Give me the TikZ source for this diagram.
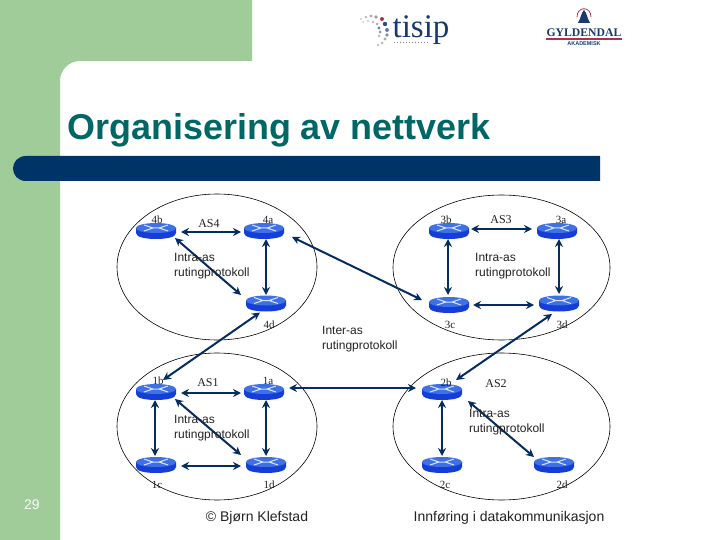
\documentclass[tikz,border=0pt]{standalone}
\usepackage{fontspec}
\setmainfont{Liberation Sans}
\newfontfamily\SerifFnt{Liberation Serif}
\usetikzlibrary{arrows.meta}
\definecolor{SideClr}{RGB}{160,204,154}
\definecolor{BarClr}{RGB}{0,51,102}
\definecolor{TitleClr}{RGB}{0,102,102}
\definecolor{LinkClr}{RGB}{5,45,95}
\definecolor{TextClr}{RGB}{35,35,35}
\definecolor{RtrTop}{RGB}{62,112,230}
\definecolor{RtrLow}{RGB}{20,62,215}
\definecolor{LogoClr}{RGB}{24,58,112}
\definecolor{LogoRed}{RGB}{170,50,80}

\tikzset{
  router/.style={minimum width=40pt,minimum height=16pt,inner sep=0pt,outer sep=0pt,
    path picture={
      \begin{scope}[shift={(path picture bounding box.center)}]
      \fill[RtrLow] (-20,-3) -- (-20,2) .. controls (-20,6) and (-11,8) .. (0,8) .. controls (11,8) and (20,6) .. (20,2) -- (20,-3) -- cycle;
      \fill[RtrTop] (0,-3) ellipse[x radius=20,y radius=5];
      \draw[white!80!RtrTop,line width=1pt] (-12,-6) -- (-3,-3) -- (-12,0) (12,-6) -- (3,-3) -- (12,0) (-6,-3) -- (6,-3);
      \end{scope}}},
  rtrlabel/.style={font=\SerifFnt\fontsize{11}{13}\selectfont,text=TextClr,inner sep=0pt},
  aslabel/.style={font=\SerifFnt\fontsize{12}{14}\selectfont,text=TextClr,inner sep=0pt},
  infotext/.style={font=\fontsize{12}{14.5}\selectfont,text=TextClr,align=left,anchor=north west,inner sep=0pt},
  foottext/.style={font=\fontsize{14}{16}\selectfont,text=TextClr,inner sep=0pt},
  asring/.style={draw=black,line width=0.6pt},
  link/.style={{Stealth[length=8pt,width=8pt]}-{Stealth[length=8pt,width=8pt]},draw=LinkClr,line width=2pt}
}

\begin{document}
\begin{tikzpicture}[x=1pt,y=-1pt]
\useasboundingbox (0,0) rectangle (720,540);

\fill[white] (0,0) rectangle (720,540);
\fill[SideClr] (0,0) -- (252,0) -- (252,61) -- (80,61) .. controls (69,61) and (60,70) .. (60,81) -- (60,540) -- (0,540) -- cycle;
\fill[BarClr] (600,156) -- (600,181) -- (26,181) .. controls (18,181) and (13,175) .. (13,168.5) .. controls (13,162) and (18,156) .. (26,156) -- cycle;

\node[font=\bfseries\fontsize{35.9}{40}\selectfont,text=TitleClr,inner sep=0pt] (title) at (279,130) {Organisering av nettverk};
\node[font=\fontsize{14}{16}\selectfont,text=white!90!SideClr,inner sep=0pt] (page) at (32,505) {29};

% logos
\foreach \px/\py/\sz/\clr in {361/19/1.1/gray!40,366/17/1.4/gray!55,371/16/1.6/gray!65,376/17/1.8/gray!75,382/19/2/LogoRed,
  385/24/2.2/LogoClr!90,387/30/2/LogoClr!65,387/35/1.9/LogoClr!55,385/39/1.7/gray!65,382/43/1.5/gray!55,378/45/1.3/gray!45,
  363/22/1/gray!40,368/21/1.1/gray!45,373/22/1.3/gray!55,377/24/1.5/gray!65,379/28/1.6/LogoClr!65,380/32/1.5/LogoClr!55,379/36/1.4/gray!55}
  \fill[\clr] (\px,\py) circle[radius=\sz];
\node[font=\SerifFnt\fontsize{33}{36}\selectfont,text=LogoClr,inner sep=0pt] (tisip) at (421,30) {tisip};
\draw[gray,line width=1pt,dotted] (394,43) -- (429,43);

\draw[LogoRed,line width=0.8pt] (577,17) .. controls (577,6) and (591,6) .. (591,17);
\fill[LogoClr] (590,23) -- (578,23) .. controls (581,18) and (581,13) .. (584,10) .. controls (587,13) and (587,18) .. (590,23) -- cycle;
\node[font=\SerifFnt\bfseries\fontsize{11.7}{13}\selectfont,text=LogoClr,inner sep=0pt] (gyldendal) at (584,33) {GYLDENDAL};
\draw[LogoRed,line width=1.6pt] (546,39) -- (622,39);
\node[font=\bfseries\fontsize{5.5}{6}\selectfont,text=LogoClr,inner sep=0pt] (akademisk) at (584,44) {AKADEMISK};

% autonome systemer
\draw[asring] (217,267) ellipse[x radius=100,y radius=73];
\draw[asring] (501.5,267.5) ellipse[x radius=108.5,y radius=72.5];
\draw[asring] (217,426.5) ellipse[x radius=100,y radius=73.5];
\draw[asring] (501.5,426.5) ellipse[x radius=108.5,y radius=73.5];

\node[router] (r4b) at (156,231) {};
\node[router] (r4a) at (264,231) {};
\node[router] (r4d) at (266,303.5) {};

\node[router] (r3b) at (449,231) {};
\node[router] (r3a) at (557,231) {};
\node[router] (r3c) at (449,305) {};
\node[router] (r3d) at (559,303.5) {};

\node[router] (r1b) at (156,392) {};
\node[router] (r1a) at (264,392) {};
\node[router] (r1c) at (156,465) {};
\node[router] (r1d) at (266,465) {};

\node[router] (r2b) at (442,392) {};
\node[router] (r2c) at (442,465) {};
\node[router] (r2d) at (554,465) {};

\draw[link] ([shift={(5,1)}]r4b.east) -- ([shift={(-3,1)}]r4a.west);
\draw[link] ([shift={(2,0)}]r4a.south) -- ([shift={(0,-0.5)}]r4d.north);
\draw[link] ([shift={(-1,-1)}]r4b.south east) -- ([shift={(-5,-0.5)}]r4d.north west);

\draw[link] ([shift={(2,-2)}]r3b.east) -- ([shift={(-5,-2)}]r3a.west);
\draw[link] ([shift={(-1,0)}]r3b.south) -- ([shift={(-1,-2)}]r3c.north);
\draw[link] ([shift={(2,0)}]r3a.south) -- ([shift={(0,-1.5)}]r3d.north);
\draw[link] ([shift={(4,0)}]r3c.east) -- ([shift={(-5,1.5)}]r3d.west);

\draw[link] ([shift={(5,1)}]r1b.east) -- ([shift={(-3,1)}]r1a.west);
\draw[link] ([shift={(-1,0)}]r1b.south) -- ([shift={(-1,-1)}]r1c.north);
\draw[link] ([shift={(2,0)}]r1a.south) -- ([shift={(0,-1)}]r1d.north);
\draw[link] ([shift={(5,1)}]r1c.east) -- ([shift={(-5,1)}]r1d.west);
\draw[link] ([shift={(-1,-1)}]r1b.south east) -- ([shift={(-5,-2)}]r1d.north west);

\draw[link] (r2b.south) -- ([shift={(0,-1)}]r2c.north);
\draw[link] ([shift={(6,1)}]r2b.south east) -- (r2d.north west);

% mellom AS-ene
\draw[link] ([shift={(8,6)}]r4a.east) -- ([shift={(-7,-5)}]r3c.west);
\draw[link] ([shift={(-6,1)}]r4d.south) -- ([shift={(7,-4)}]r1b.north);
\draw[link] ([shift={(-7,2.5)}]r3d.south) -- ([shift={(14,-4)}]r2b.north);
\draw[link] ([shift={(5,-4)}]r1a.east) -- ([shift={(-6,-4)}]r2b.west);

\node[rtrlabel] (l4b) at (157,220) {4b};
\node[rtrlabel] (l4a) at (268,220) {4a};
\node[rtrlabel] (l4d) at (269,325) {4d};
\node[rtrlabel] (l3b) at (446,220) {3b};
\node[rtrlabel] (l3a) at (561,220) {3a};
\node[rtrlabel] (l3c) at (450,325) {3c};
\node[rtrlabel] (l3d) at (562,325) {3d};
\node[rtrlabel] (l1b) at (158,381) {1b};
\node[rtrlabel] (l1a) at (268,381) {1a};
\node[rtrlabel] (l1c) at (157,485) {1c};
\node[rtrlabel] (l1d) at (269,485) {1d};
\node[rtrlabel] (l2b) at (446,383) {2b};
\node[rtrlabel] (l2c) at (445,485) {2c};
\node[rtrlabel] (l2d) at (562,485) {2d};

\node[aslabel] (as4) at (209,224) {AS4};
\node[aslabel] (as3) at (501,220) {AS3};
\node[aslabel] (as1) at (208,383) {AS1};
\node[aslabel] (as2) at (496,384) {AS2};

\node[infotext] (intra4) at (174,253.5) {Intra-as\\rutingprotokoll};
\node[infotext] (intra3) at (475,253.5) {Intra-as\\rutingprotokoll};
\node[infotext] (intra1) at (174,415.5) {Intra-as\\rutingprotokoll};
\node[infotext] (intra2) at (469,409.5) {Intra-as\\rutingprotokoll};
\node[infotext] (inter) at (322,326.5) {Inter-as\\rutingprotokoll};

\node[foottext] (copyr) at (257,518) {© Bjørn Klefstad};
\node[foottext] (course) at (509,518) {Innføring i datakommunikasjon};

\end{tikzpicture}
\end{document}
